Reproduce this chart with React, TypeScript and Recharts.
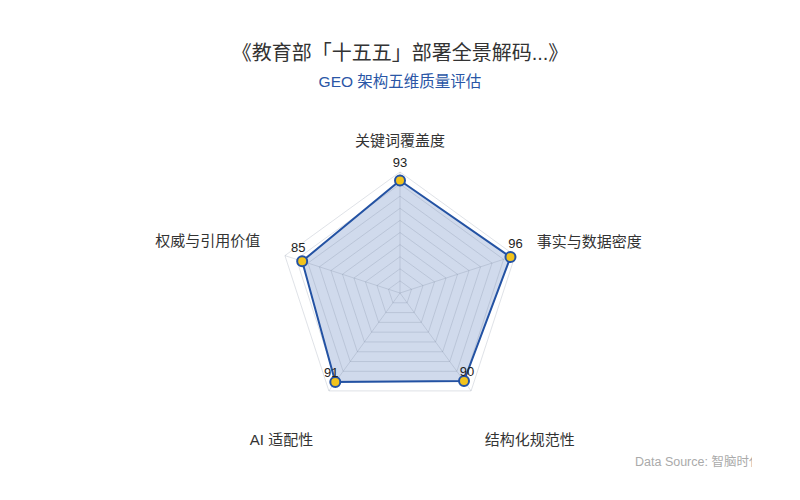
import React from 'react';
import { RadarChart, Radar, PolarGrid, PolarAngleAxis, PolarRadiusAxis } from 'recharts';

const dimensions = ['关键词覆盖度', '事实与数据密度', '结构化规范性', 'AI 适配性', '权威与引用价值'];
const scores = [93, 96, 90, 91, 85];
const radiusTicks = 11; // 0, 10, ... 100

const data = dimensions.map((name, i) => ({ name, score: scores[i] }));

const FONT = '"Liberation Sans", "Noto Sans CJK SC", sans-serif';
const BLUE = '#2352a3';

// tweaks so the category labels sit like the reference
const TICK_OFFSET = [
    { dx: 0, dy: -24 },
    { dx: 14, dy: -12 },
    { dx: 9, dy: 42 },
    { dx: -11, dy: 42 },
    { dx: -17, dy: -13 },
];
const VALUE_OFFSET = [
    { dx: 0, dy: -18 },
    { dx: 5, dy: -14 },
    { dx: 3, dy: -10 },
    { dx: -4, dy: -10 },
    { dx: -4, dy: -14 },
];

const chartProps = {
    width: 800,
    height: 500,
    data,
    cx: 400,
    cy: 293,
    outerRadius: 121,
    margin: { top: 0, right: 0, bottom: 0, left: 0 },
};

const layer: React.CSSProperties = { position: 'absolute', left: 0, top: 0 };

const AngleTick = (props: any) => {
    const { x, y, payload, textAnchor, index } = props;
    const off = TICK_OFFSET[index] || { dx: 0, dy: 0 };
    return (
        <text
            x={x + off.dx}
            y={y + off.dy}
            textAnchor={textAnchor}
            dominantBaseline="central"
            fill="#333"
            fontSize={15}
            fontFamily={FONT}
        >
            {payload.value}
        </text>
    );
};

const ValueLabel = (props: any) => {
    const { x, y, value, index } = props;
    const off = VALUE_OFFSET[index] || { dx: 0, dy: 0 };
    return (
        <text
            x={x + off.dx}
            y={y + off.dy}
            textAnchor="middle"
            dominantBaseline="central"
            fill="#222"
            fontSize={13}
            fontFamily={FONT}
        >
            {value}
        </text>
    );
};

export default function App() {
    return (
        <div style={{ position: 'fixed', left: 0, top: 0, width: 800, height: 500, background: '#fff', fontFamily: FONT }}>
            <div style={{ ...layer, width: 800, top: 40, textAlign: 'center', fontSize: 20, lineHeight: '26px', color: '#333' }}>
                《教育部「十五五」部署全景解码...》
            </div>
            <div style={{ ...layer, width: 800, top: 72, textAlign: 'center', fontSize: 15.5, lineHeight: '20px', color: '#2a56a6' }}>
                GEO 架构五维质量评估
            </div>

            {/* area fill underneath */}
            <div style={layer}>
                <RadarChart {...chartProps}>
                    <PolarAngleAxis dataKey="name" tick={false} axisLine={false} tickLine={false} />
                    <PolarRadiusAxis domain={[0, 100]} tick={false} axisLine={false} tickCount={radiusTicks} />
                    <Radar dataKey="score" stroke="none" fill="#2855aa" fillOpacity={0.22} dot={false} isAnimationActive={false} />
                </RadarChart>
            </div>

            {/* grid drawn over the fill */}
            <div style={layer}>
                <RadarChart {...chartProps}>
                    <PolarGrid gridType="polygon" stroke="#6f7a90" strokeOpacity={0.22} />
                    <PolarAngleAxis dataKey="name" tick={false} axisLine={false} tickLine={false} />
                    <PolarRadiusAxis domain={[0, 100]} tick={false} axisLine={false} tickCount={radiusTicks} />
                    <Radar dataKey="score" stroke="none" fill="none" fillOpacity={0} dot={false} isAnimationActive={false} />
                </RadarChart>
            </div>

            {/* outline, points, labels */}
            <div style={layer}>
                <RadarChart {...chartProps}>
                    <PolarAngleAxis dataKey="name" axisLine={false} tickLine={false} tickSize={8} tick={<AngleTick />} />
                    <PolarRadiusAxis domain={[0, 100]} tick={false} axisLine={false} tickCount={radiusTicks} />
                    <Radar
                        dataKey="score"
                        stroke={BLUE}
                        strokeWidth={2}
                        fill="none"
                        fillOpacity={0}
                        dot={{ r: 5, fill: '#f2c31c', stroke: BLUE, strokeWidth: 2, fillOpacity: 1 }}
                        label={<ValueLabel />}
                        isAnimationActive={false}
                    />
                </RadarChart>
            </div>

            <div style={{ ...layer, left: 635, top: 454, width: 117, overflow: 'hidden', whiteSpace: 'nowrap', fontSize: 12.5, lineHeight: '16px', color: '#aaa' }}>
                Data Source: 智脑时代
            </div>
        </div>
    );
}
